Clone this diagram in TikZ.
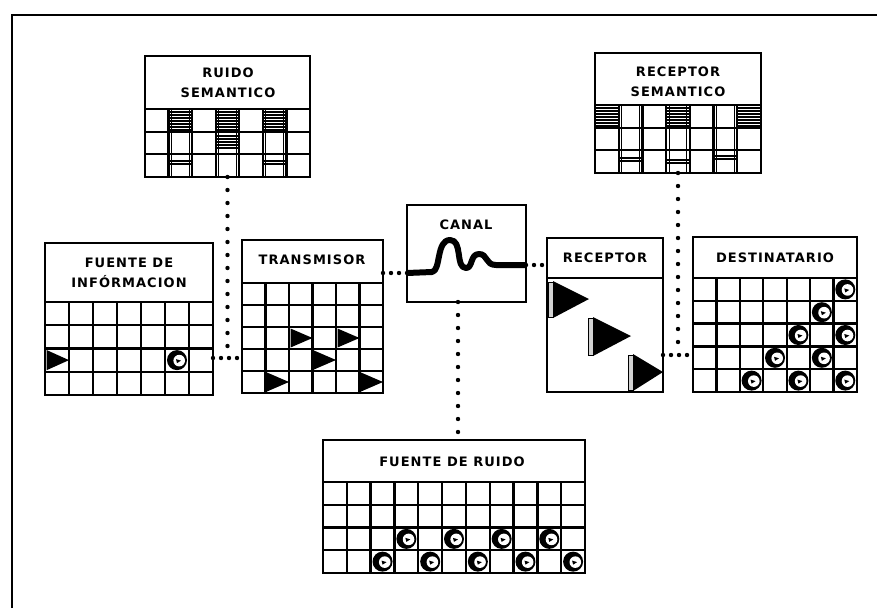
\documentclass[tikz,border=0pt]{standalone}
\usepackage{fontspec}
\newfontfamily\labfont{DejaVu Sans}[LetterSpace=8]
\newcommand{\cellgrid}[6]{% x0 y0 x1 y1 ncols nrows
  \pgfmathtruncatemacro\gnc{#5-1}%
  \pgfmathtruncatemacro\gnr{#6-1}%
  \foreach \i in {1,...,\gnc} \draw[gridline] ({#1+\i*(#3-#1)/#5},#2) -- ({#1+\i*(#3-#1)/#5},#4);
  \foreach \j in {1,...,\gnr} \draw[gridline] (#1,{#2+\j*(#4-#2)/#6}) -- (#3,{#2+\j*(#4-#2)/#6});
}
\newcommand{\ballcell}[6]{% x0 y0 w h col row
  \fill[black] ({#1+(#5-0.5)*#3},{#2+(#6-0.5)*#4}) circle (10);
  \fill[white] ({#1+(#5-0.5)*#3+2.2},{#2+(#6-0.5)*#4+0.5}) circle (5.8);
  \fill[black] ({#1+(#5-0.5)*#3-1},{#2+(#6-0.5)*#4-1}) -- ++(5,1.5) -- ++(-4,2.5) -- cycle;
}
\newcommand{\tricell}[6]{% x0 y0 w h col row
  \fill[black] ({#1+(#5-1)*#3+1.5},{#2+(#6-1)*#4+1.5}) -- ({#1+(#5-1)*#3+1.5},{#2+#6*#4-1.5}) -- ({#1+#5*#3},{#2+(#6-0.5)*#4}) -- cycle;
}
\newcommand{\hatchband}[4]{% x0 x1 ytop n
  \foreach \k in {0,...,#4} \draw[hatchline] (#1,{#3+\k*3}) -- (#2,{#3+\k*3});
}
\begin{document}
\begin{tikzpicture}[x=1pt,y=-1pt,
  box/.style={draw, line width=2.4pt, inner sep=0pt, outer sep=0pt, fill=white},
  gridline/.style={line width=2.3pt},
  lbl/.style={font=\labfont\bfseries\fontsize{13}{20}\selectfont, align=center, inner sep=0pt},
  dotsv/.style={line width=4.4pt, line cap=round, dash pattern=on 0pt off 13pt},
  dotsh/.style={line width=4.4pt, line cap=round, dash pattern=on 0pt off 8pt},
  hatchline/.style={line width=1.4pt},
  strip/.style={draw, line width=0.9pt, fill=gray!35}]
\useasboundingbox (0,0) rectangle (877,608);
\fill[white] (0,0) rectangle (877,608);
% outer frame
\draw[line width=2.8pt] (12,608) -- (12,15) -- (877,15);

% boxes
\node[box, minimum width=165pt, minimum height=121pt] (ruidosem) at (227.5,116.5) {};
\node[box, minimum width=166pt, minimum height=120pt] (recsem) at (678,113) {};
\node[box, minimum width=168pt, minimum height=152pt] (fuente) at (129,319) {};
\node[box, minimum width=141pt, minimum height=153pt] (transmisor) at (312.5,316.5) {};
\node[box, minimum width=119pt, minimum height=97pt] (canal) at (466.5,253.5) {};
\node[box, minimum width=116pt, minimum height=154pt] (receptor) at (605,315) {};
\node[box, minimum width=164pt, minimum height=155pt] (destinatario) at (775,314.5) {};
\node[box, minimum width=262pt, minimum height=133pt] (ruido) at (454,506.5) {};

% header separators
\draw[gridline] (145,109) -- (310,109);
\draw[gridline] (595,105) -- (761,105);
\draw[gridline] (45,302) -- (213,302);
\draw[gridline] (242,283) -- (383,283);
\draw[gridline] (547,278) -- (663,278);
\draw[gridline] (693,278) -- (857,278);
\draw[gridline] (323,482) -- (585,482);

% grids
\cellgrid{145}{109}{310}{177}{7}{3}
\cellgrid{595}{105}{761}{173}{7}{3}
\cellgrid{45}{302}{213}{395}{7}{4}
\cellgrid{242}{283}{383}{393}{6}{5}
\cellgrid{693}{278}{857}{392}{7}{5}
\cellgrid{323}{482}{585}{573}{11}{4}

% labels
\node[lbl] (l-ruidosem) at (228,83) {RUIDO\\SEMANTICO};
\node[lbl] (l-recsem) at (678,82) {RECEPTOR\\SEMANTICO};
\node[lbl] (l-fuente) at (129,273) {FUENTE DE\\INFÓRMACION};
\node[lbl] (l-transmisor) at (312,260) {TRANSMISOR};
\node[lbl] (l-canal) at (466,225) {CANAL};
\node[lbl] (l-receptor) at (605,258) {RECEPTOR};
\node[lbl] (l-destinatario) at (775,258) {DESTINATARIO};
\node[lbl] (l-ruido) at (452,462) {FUENTE DE RUIDO};

% semantic hatching: ruido semantico
\hatchband{168.6}{192.1}{112}{6}
\hatchband{168.6}{192.1}{161}{1}
\hatchband{215.7}{239.3}{112}{6}
\hatchband{215.7}{239.3}{136}{4}
\hatchband{262.9}{286.4}{112}{6}
\hatchband{262.9}{286.4}{161}{1}
\foreach \xx in {171.6,189.1,218.7,236.3,265.9,283.4}
  \draw[line width=1.1pt] (\xx,109) -- (\xx,177);
% receptor semantico
\hatchband{595}{618.7}{108}{6}
\hatchband{618.7}{642.4}{158}{1}
\hatchband{666.1}{689.9}{108}{6}
\hatchband{666.1}{689.9}{160}{1}
\hatchband{713.6}{737.3}{156}{1}
\hatchband{737.3}{761}{108}{6}
\foreach \xx in {621.7,639.4,669.1,686.9,716.6,734.3}
  \draw[line width=1.1pt] (\xx,105) -- (\xx,173);

% fuente de informacion
\tricell{45}{302}{24}{23.25}{1}{3}
\ballcell{45}{302}{24}{23.25}{6}{3}
% transmisor
\tricell{242}{283}{23.5}{22}{3}{3}
\tricell{242}{283}{23.5}{22}{5}{3}
\tricell{242}{283}{23.5}{22}{4}{4}
\tricell{242}{283}{23.5}{22}{2}{5}
\tricell{242}{283}{23.5}{22}{6}{5}
% destinatario
\foreach \c/\r in {7/1,6/2,5/3,7/3,4/4,6/4,3/5,5/5,7/5}
  {\ballcell{693}{278}{23.43}{22.8}{\c}{\r}}
% fuente de ruido
\foreach \c/\r in {4/3,6/3,8/3,10/3,3/4,5/4,7/4,9/4,11/4}
  {\ballcell{323}{482}{23.82}{22.75}{\c}{\r}}

% receptor triangles
\draw[strip] (548,282) rectangle (553,317);
\fill[black] (553,281) -- (553,318) -- (589,299) -- cycle;
\draw[strip] (588,318) rectangle (593,355);
\fill[black] (593,317) -- (593,356) -- (631,336) -- cycle;
\draw[strip] (628,355) rectangle (633,390);
\fill[black] (633,354) -- (633,391) -- (663,372) -- cycle;

% canal wave
\coordinate (wl) at (407,273);
\coordinate (wr) at (526,265);
\draw[line width=6pt, line join=round] (wl) -- (432,272)
  .. controls (441,271) and (436,240) .. (450,240)
  .. controls (463,240) and (455,268) .. (466,268)
  .. controls (473,268) and (470,254) .. (479,254)
  .. controls (488,254) and (485,265) .. (496,265) -- (wr);

% connectors
\coordinate (j1) at (227.5,358);
\coordinate (jc) at (458,0);
\coordinate (j2) at (678,355);
\draw[dotsv] (ruidosem.south) -- (j1);
\draw[dotsh] (fuente.east |- j1) -- (transmisor.west |- j1);
\draw[dotsh] (transmisor.east |- wl) -- (wl);
\draw[dotsh] (wr) -- (receptor.west |- wr);
\draw[dotsv] (canal.south -| jc) -- (ruido.north -| jc);
\draw[dotsv] (recsem.south) -- (j2);
\draw[dotsh] (receptor.east |- j2) -- (destinatario.west |- j2);
\end{tikzpicture}
\end{document}
